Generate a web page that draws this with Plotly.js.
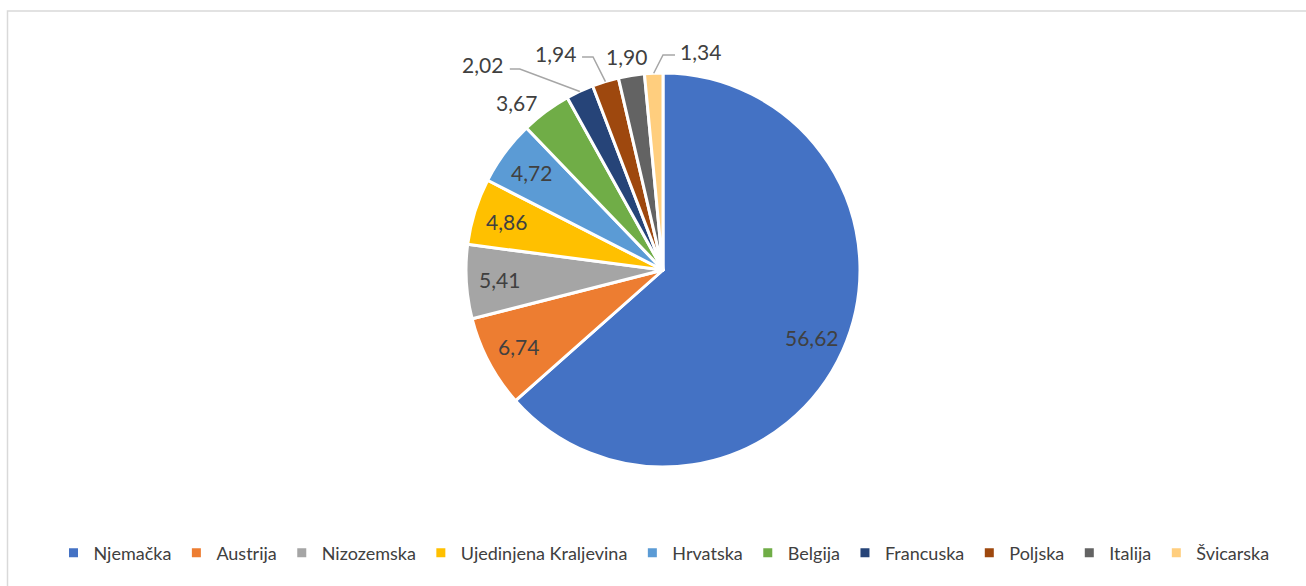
<!DOCTYPE html>
<html>
<head>
<meta charset="utf-8">
<script src="https://cdn.plot.ly/plotly-3.0.1.min.js"></script>
<style>
  html, body { margin: 0; padding: 0; background: #ffffff; }
  #chart { width: 1306px; height: 586px; }
</style>
</head>
<body>
<div id="chart"></div>
<script>
// ---- data ----
const countries = ["Njemačka", "Austrija", "Nizozemska", "Ujedinjena Kraljevina", "Hrvatska",
                   "Belgija", "Francuska", "Poljska", "Italija", "Švicarska"];
const shares = [56.62, 6.74, 5.41, 4.86, 4.72, 3.67, 2.02, 1.94, 1.90, 1.34];
const sliceColors = ["#4472C4", "#ED7D31", "#A5A5A5", "#FFC000", "#5B9BD5",
                     "#70AD47", "#264478", "#9E480E", "#636363", "#FFCE7E"];

// ---- layout constants ----
const W = 1306, H = 586;
const dom = { x: [466 / W, 860 / W], y: [1 - 467 / H, 1 - 73 / H] };
const cx = W * (dom.x[0] + dom.x[1]) / 2;
const cy = H * (1 - (dom.y[0] + dom.y[1]) / 2);
const R = Math.min(W * (dom.x[1] - dom.x[0]), H * (dom.y[1] - dom.y[0])) / 2;
const px = x => x / W, py = y => 1 - y / H;
const labelFont = { family: "Lato, 'Open Sans', sans-serif", size: 21, color: "#404040" };

// label placement style: inside labels at a radius fraction; outside labels by offsets from slice edge
const insideR = 0.83;
const outsideStyle = {
  5: { d: [-29, -9] },
  6: { d: [-97, -26.5], line: [[-60, -22.5], [-70, -22.5]] },
  7: { d: [-50, -28.5], line: [[-12.4, -24.6], [-23.4, -24.6]] },
  8: { d: [-4.5, -19.5] },
  9: { d: [46.3, -22.2], line: [[9.3, -18.2], [21.3, -18.2]] }
};

const total = shares.reduce((a, b) => a + b, 0);
const fmt = v => v.toFixed(2).replace(".", ",");

const annotations = [];
const shapes = [];
let cum = 0;
shares.forEach((v, i) => {
  const mid = (cum + v / 2) / total * 2 * Math.PI;
  cum += v;
  const sx = Math.sin(mid), sy = -Math.cos(mid);
  const st = outsideStyle[i];
  let lx, ly;
  if (!st) {
    lx = cx + insideR * R * sx; ly = cy + insideR * R * sy;
  } else {
    const tx = cx + R * sx, ty = cy + R * sy;
    lx = tx + st.d[0]; ly = ty + st.d[1];
    if (st.line) {
      const pts = [[tx, ty]].concat(st.line.map(p => [tx + p[0], ty + p[1]]));
      const path = pts.map((p, k) => (k ? "L" : "M") + px(p[0]) + "," + py(p[1])).join(" ");
      shapes.push({ type: "path", xref: "paper", yref: "paper", path: path,
                    line: { color: "#A6A6A6", width: 1.5 } });
    }
  }
  annotations.push({ xref: "paper", yref: "paper", x: px(lx), y: py(ly),
                     xanchor: "center", yanchor: "middle", showarrow: false,
                     text: fmt(v), font: labelFont });
});

// chart area border
shapes.push({ type: "rect", xref: "paper", yref: "paper",
              x0: px(7.5), x1: px(1312), y0: py(11), y1: py(600),
              line: { color: "#D9D9D9", width: 1.5 }, fillcolor: "rgba(0,0,0,0)" });

const trace = {
  type: "pie",
  labels: countries,
  values: shares,
  sort: false,
  direction: "clockwise",
  rotation: 0,
  textinfo: "none",
  hoverinfo: "label+value",
  marker: { colors: sliceColors, line: { color: "#ffffff", width: 3 } },
  domain: dom
};

const layout = {
  width: W, height: H,
  margin: { l: 0, r: 0, t: 0, b: 0 },
  paper_bgcolor: "#ffffff",
  showlegend: true,
  legend: {
    orientation: "h", x: px(664), xanchor: "center", y: py(553), yanchor: "middle",
    font: { family: "Lato, 'Open Sans', sans-serif", size: 18, color: "#404040" },
    itemclick: false, itemdoubleclick: false, traceorder: "normal"
  },
  annotations: annotations,
  shapes: shapes
};

Plotly.newPlot("chart", [trace], layout, { displayModeBar: false, staticPlot: true });
</script>
</body>
</html>
